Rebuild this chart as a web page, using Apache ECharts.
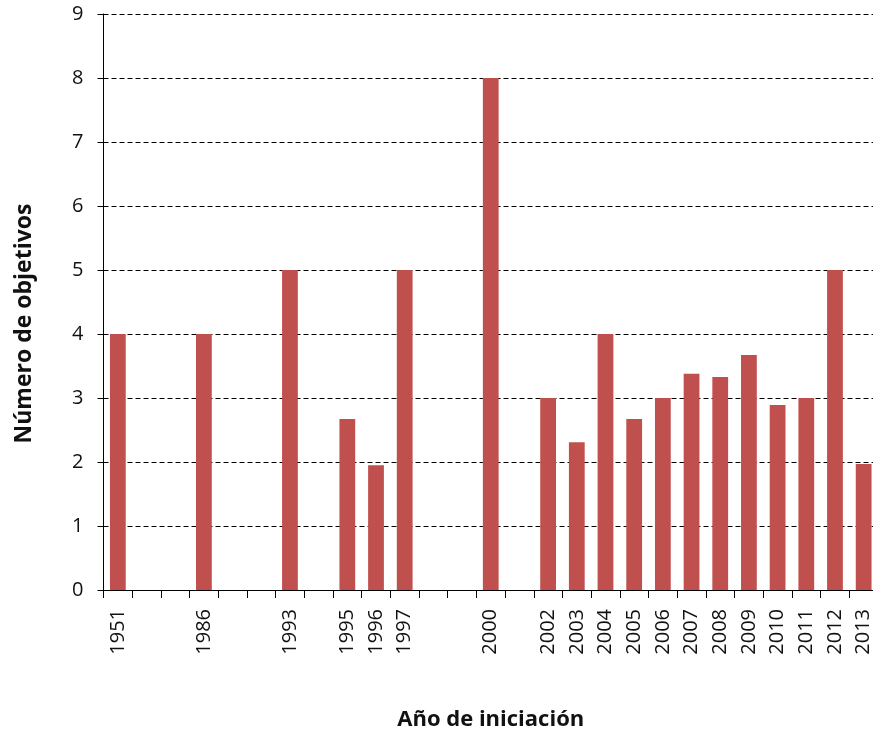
<!DOCTYPE html>
<html>
<head>
<meta charset="utf-8">
<script src="https://cdn.jsdelivr.net/npm/echarts@6/dist/echarts.min.js"></script>
<style>
html,body{margin:0;padding:0;background:#fff;}
#chart{width:873px;height:736px;}
</style>
</head>
<body>
<div id="chart"></div>
<script>
const categories = ['1951','','','1986','','','1993','','1995','1996','1997','','','2000','','2002','2003','2004','2005','2006','2007','2008','2009','2010','2011','2012','2013'];
const values = [4,null,null,4,null,null,5,null,2.67,1.95,5,null,null,8,null,3,2.31,4,2.67,3,3.38,3.33,3.67,2.89,3,5,1.97];
const yTicks = [0,1,2,3,4,5,6,7,8,9];
const xTitle = 'Año de iniciación';
const yTitle = 'Número de objetivos';

const font = 'Open Sans';
const chart = echarts.init(document.getElementById('chart'), null, {renderer:'canvas'});
chart.setOption({
  animation: false,
  backgroundColor: '#fff',
  grid: {left: 103.5, right: -5, top: 14, bottom: 146, containLabel: false, outerBoundsMode: 'none'},
  xAxis: {
    type: 'category',
    data: categories,
    boundaryGap: true,
    name: xTitle,
    nameLocation: 'middle',
    nameGap: 119,
    nameTextStyle: {fontFamily: font, fontWeight: 'bold', fontSize: 22, color: '#111'},
    axisLine: {show: true, lineStyle: {color: '#000', width: 1}},
    axisTick: {show: true, interval: 0, length: 8, alignWithLabel: false, lineStyle: {color: '#000', width: 1}},
    axisLabel: {interval: 0, rotate: 90, margin: 19, fontFamily: font, fontSize: 20, color: '#111'},
    splitLine: {show: false}
  },
  yAxis: {
    type: 'value',
    min: yTicks[0],
    max: yTicks[yTicks.length - 1],
    interval: 1,
    name: yTitle,
    nameLocation: 'middle',
    nameGap: 68,
    nameRotate: 90,
    nameTextStyle: {fontFamily: font, fontWeight: 'bold', fontSize: 23, color: '#111', padding: [0, 43, 0, 0]},
    axisLine: {show: true, lineStyle: {color: '#000', width: 1}},
    axisTick: {show: true, length: 6, lineStyle: {color: '#000', width: 1}},
    axisLabel: {margin: 20, fontFamily: font, fontSize: 20, color: '#111'},
    splitLine: {show: true, lineStyle: {type: [5, 3], color: '#000', width: 1}}
  },
  series: [{
    type: 'bar',
    data: values,
    barCategoryGap: '45%',
    itemStyle: {color: '#C0504D'}
  }]
});
</script>
</body>
</html>
